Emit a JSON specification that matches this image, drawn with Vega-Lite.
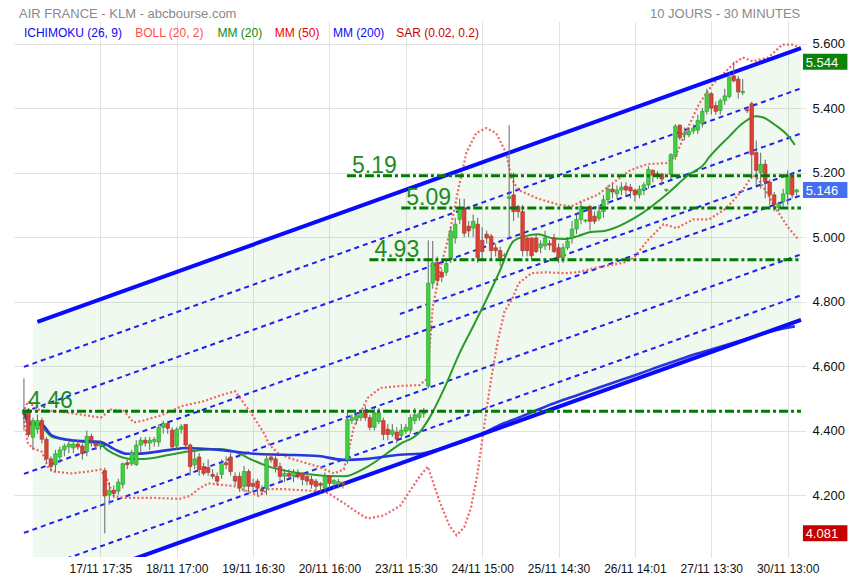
{
"$schema":"https://vega.github.io/schema/vega-lite/v6.json",
"width":792,"height":536,
"autosize":{"type":"none"},
"padding":{"left":14,"top":21,"right":49,"bottom":23},
"background":"#ffffff",
"config":{"view":{"stroke":null},"font":"Liberation Sans"},
"resolve":{"scale":{"color":"independent"}},
"datasets":{
"cd":[
{"i":0,"o":4.455,"h":4.562,"l":4.40,"c":4.462},
{"i":1,"o":4.465,"h":4.47,"l":4.38,"c":4.388},
{"i":2,"o":4.379,"h":4.44,"l":4.34,"c":4.431},
{"i":3,"o":4.404,"h":4.45,"l":4.39,"c":4.431},
{"i":4,"o":4.431,"h":4.44,"l":4.36,"c":4.373},
{"i":5,"o":4.373,"h":4.38,"l":4.30,"c":4.312},
{"i":6,"o":4.312,"h":4.32,"l":4.273,"c":4.288},
{"i":7,"o":4.294,"h":4.34,"l":4.27,"c":4.328},
{"i":8,"o":4.318,"h":4.35,"l":4.30,"c":4.340},
{"i":9,"o":4.340,"h":4.36,"l":4.32,"c":4.352},
{"i":10,"o":4.349,"h":4.37,"l":4.33,"c":4.358},
{"i":11,"o":4.346,"h":4.37,"l":4.33,"c":4.358},
{"i":12,"o":4.358,"h":4.37,"l":4.34,"c":4.349},
{"i":13,"o":4.352,"h":4.36,"l":4.31,"c":4.328},
{"i":14,"o":4.334,"h":4.40,"l":4.32,"c":4.382},
{"i":15,"o":4.382,"h":4.39,"l":4.35,"c":4.370},
{"i":16,"o":4.361,"h":4.37,"l":4.34,"c":4.352},
{"i":17,"o":4.352,"h":4.37,"l":4.34,"c":4.358},
{"i":18,"o":4.276,"h":4.285,"l":4.081,"c":4.197},
{"i":19,"o":4.200,"h":4.24,"l":4.17,"c":4.215},
{"i":20,"o":4.215,"h":4.23,"l":4.19,"c":4.205},
{"i":21,"o":4.212,"h":4.25,"l":4.20,"c":4.240},
{"i":22,"o":4.233,"h":4.30,"l":4.22,"c":4.297},
{"i":23,"o":4.300,"h":4.31,"l":4.28,"c":4.294},
{"i":24,"o":4.297,"h":4.34,"l":4.29,"c":4.330},
{"i":25,"o":4.294,"h":4.37,"l":4.29,"c":4.355},
{"i":26,"o":4.355,"h":4.38,"l":4.33,"c":4.370},
{"i":27,"o":4.370,"h":4.38,"l":4.35,"c":4.361},
{"i":28,"o":4.361,"h":4.38,"l":4.34,"c":4.370},
{"i":29,"o":4.366,"h":4.38,"l":4.35,"c":4.372},
{"i":30,"o":4.364,"h":4.42,"l":4.35,"c":4.410},
{"i":31,"o":4.410,"h":4.431,"l":4.39,"c":4.422},
{"i":32,"o":4.422,"h":4.43,"l":4.39,"c":4.407},
{"i":33,"o":4.401,"h":4.41,"l":4.34,"c":4.349},
{"i":34,"o":4.352,"h":4.41,"l":4.34,"c":4.404},
{"i":35,"o":4.404,"h":4.42,"l":4.39,"c":4.412},
{"i":36,"o":4.419,"h":4.42,"l":4.34,"c":4.355},
{"i":37,"o":4.355,"h":4.36,"l":4.26,"c":4.288},
{"i":38,"o":4.294,"h":4.34,"l":4.28,"c":4.312},
{"i":39,"o":4.318,"h":4.33,"l":4.26,"c":4.279},
{"i":40,"o":4.288,"h":4.30,"l":4.26,"c":4.267},
{"i":41,"o":4.285,"h":4.31,"l":4.26,"c":4.270},
{"i":42,"o":4.264,"h":4.28,"l":4.25,"c":4.258},
{"i":43,"o":4.258,"h":4.27,"l":4.23,"c":4.243},
{"i":44,"o":4.264,"h":4.31,"l":4.25,"c":4.297},
{"i":45,"o":4.300,"h":4.32,"l":4.28,"c":4.294},
{"i":46,"o":4.318,"h":4.33,"l":4.26,"c":4.273},
{"i":47,"o":4.258,"h":4.27,"l":4.23,"c":4.243},
{"i":48,"o":4.258,"h":4.27,"l":4.21,"c":4.222},
{"i":49,"o":4.227,"h":4.29,"l":4.21,"c":4.273},
{"i":50,"o":4.273,"h":4.28,"l":4.21,"c":4.227},
{"i":51,"o":4.236,"h":4.25,"l":4.21,"c":4.227},
{"i":52,"o":4.243,"h":4.25,"l":4.20,"c":4.221},
{"i":53,"o":4.218,"h":4.23,"l":4.20,"c":4.212},
{"i":54,"o":4.221,"h":4.327,"l":4.20,"c":4.312},
{"i":55,"o":4.318,"h":4.33,"l":4.30,"c":4.309},
{"i":56,"o":4.312,"h":4.32,"l":4.27,"c":4.288},
{"i":57,"o":4.288,"h":4.30,"l":4.24,"c":4.258},
{"i":58,"o":4.258,"h":4.28,"l":4.24,"c":4.267},
{"i":59,"o":4.267,"h":4.28,"l":4.25,"c":4.258},
{"i":60,"o":4.258,"h":4.28,"l":4.24,"c":4.270},
{"i":61,"o":4.267,"h":4.28,"l":4.25,"c":4.258},
{"i":62,"o":4.267,"h":4.27,"l":4.23,"c":4.248},
{"i":63,"o":4.258,"h":4.26,"l":4.23,"c":4.243},
{"i":64,"o":4.248,"h":4.26,"l":4.22,"c":4.233},
{"i":65,"o":4.243,"h":4.25,"l":4.21,"c":4.227},
{"i":66,"o":4.236,"h":4.24,"l":4.21,"c":4.230},
{"i":67,"o":4.221,"h":4.27,"l":4.21,"c":4.258},
{"i":68,"o":4.258,"h":4.26,"l":4.22,"c":4.236},
{"i":69,"o":4.236,"h":4.25,"l":4.22,"c":4.245},
{"i":70,"o":4.233,"h":4.25,"l":4.22,"c":4.242},
{"i":71,"o":4.239,"h":4.24,"l":4.22,"c":4.233},
{"i":72,"o":4.309,"h":4.461,"l":4.297,"c":4.434},
{"i":73,"o":4.431,"h":4.45,"l":4.42,"c":4.440},
{"i":74,"o":4.434,"h":4.455,"l":4.42,"c":4.446},
{"i":75,"o":4.440,"h":4.465,"l":4.43,"c":4.455},
{"i":76,"o":4.461,"h":4.477,"l":4.43,"c":4.440},
{"i":77,"o":4.440,"h":4.45,"l":4.40,"c":4.410},
{"i":78,"o":4.410,"h":4.47,"l":4.40,"c":4.455},
{"i":79,"o":4.428,"h":4.47,"l":4.42,"c":4.455},
{"i":80,"o":4.431,"h":4.44,"l":4.37,"c":4.388},
{"i":81,"o":4.404,"h":4.42,"l":4.37,"c":4.388},
{"i":82,"o":4.388,"h":4.42,"l":4.38,"c":4.401},
{"i":83,"o":4.395,"h":4.41,"l":4.36,"c":4.373},
{"i":84,"o":4.385,"h":4.42,"l":4.37,"c":4.401},
{"i":85,"o":4.398,"h":4.42,"l":4.39,"c":4.410},
{"i":86,"o":4.401,"h":4.45,"l":4.39,"c":4.440},
{"i":87,"o":4.431,"h":4.47,"l":4.42,"c":4.449},
{"i":88,"o":4.440,"h":4.46,"l":4.43,"c":4.452},
{"i":89,"o":4.452,"h":4.47,"l":4.44,"c":4.455},
{"i":90,"o":4.538,"h":4.99,"l":4.53,"c":4.857},
{"i":91,"o":4.857,"h":4.988,"l":4.84,"c":4.921},
{"i":92,"o":4.921,"h":4.94,"l":4.85,"c":4.866},
{"i":93,"o":4.891,"h":4.90,"l":4.86,"c":4.876},
{"i":94,"o":4.891,"h":4.93,"l":4.88,"c":4.918},
{"i":95,"o":4.936,"h":5.03,"l":4.92,"c":5.019},
{"i":96,"o":4.997,"h":5.06,"l":4.98,"c":5.040},
{"i":97,"o":5.055,"h":5.119,"l":5.04,"c":5.089},
{"i":98,"o":5.089,"h":5.119,"l":5.00,"c":5.012},
{"i":99,"o":5.034,"h":5.05,"l":5.00,"c":5.019},
{"i":100,"o":5.028,"h":5.07,"l":5.00,"c":5.049},
{"i":101,"o":5.040,"h":5.06,"l":4.92,"c":4.936},
{"i":102,"o":4.990,"h":5.03,"l":4.93,"c":4.955},
{"i":103,"o":5.009,"h":5.02,"l":4.98,"c":4.997},
{"i":104,"o":5.003,"h":5.01,"l":4.93,"c":4.958},
{"i":105,"o":4.967,"h":4.98,"l":4.94,"c":4.958},
{"i":106,"o":4.958,"h":4.97,"l":4.91,"c":4.936},
{"i":107,"o":4.942,"h":4.95,"l":4.93,"c":4.945},
{"i":108,"o":5.120,"h":5.347,"l":4.997,"c":5.125},
{"i":109,"o":5.131,"h":5.20,"l":5.05,"c":5.079},
{"i":110,"o":5.095,"h":5.10,"l":5.06,"c":5.079},
{"i":111,"o":5.079,"h":5.10,"l":4.94,"c":4.958},
{"i":112,"o":4.997,"h":5.00,"l":4.94,"c":4.958},
{"i":113,"o":4.997,"h":5.00,"l":4.93,"c":4.942},
{"i":114,"o":4.997,"h":5.01,"l":4.95,"c":4.955},
{"i":115,"o":4.967,"h":4.99,"l":4.95,"c":4.979},
{"i":116,"o":4.973,"h":5.02,"l":4.96,"c":4.997},
{"i":117,"o":4.980,"h":4.99,"l":4.96,"c":4.975},
{"i":118,"o":4.997,"h":5.01,"l":4.95,"c":4.955},
{"i":119,"o":4.967,"h":4.98,"l":4.92,"c":4.936},
{"i":120,"o":4.936,"h":4.98,"l":4.92,"c":4.967},
{"i":121,"o":4.967,"h":5.00,"l":4.96,"c":4.988},
{"i":122,"o":4.997,"h":5.05,"l":4.98,"c":5.025},
{"i":123,"o":5.025,"h":5.07,"l":5.01,"c":5.055},
{"i":124,"o":5.055,"h":5.11,"l":5.04,"c":5.095},
{"i":125,"o":5.050,"h":5.055,"l":5.045,"c":5.053},
{"i":126,"o":5.095,"h":5.10,"l":5.02,"c":5.049},
{"i":127,"o":5.065,"h":5.08,"l":5.04,"c":5.049},
{"i":128,"o":5.058,"h":5.10,"l":5.05,"c":5.079},
{"i":129,"o":5.079,"h":5.13,"l":5.06,"c":5.116},
{"i":130,"o":5.116,"h":5.16,"l":5.10,"c":5.149},
{"i":131,"o":5.149,"h":5.165,"l":5.12,"c":5.140},
{"i":132,"o":5.134,"h":5.16,"l":5.12,"c":5.146},
{"i":133,"o":5.146,"h":5.17,"l":5.13,"c":5.155},
{"i":134,"o":5.158,"h":5.17,"l":5.13,"c":5.146},
{"i":135,"o":5.155,"h":5.165,"l":5.12,"c":5.143},
{"i":136,"o":5.146,"h":5.15,"l":5.11,"c":5.131},
{"i":137,"o":5.131,"h":5.16,"l":5.12,"c":5.149},
{"i":138,"o":5.146,"h":5.17,"l":5.13,"c":5.162},
{"i":139,"o":5.162,"h":5.22,"l":5.15,"c":5.210},
{"i":140,"o":5.207,"h":5.21,"l":5.17,"c":5.192},
{"i":141,"o":5.197,"h":5.205,"l":5.18,"c":5.193},
{"i":142,"o":5.195,"h":5.20,"l":5.16,"c":5.180},
{"i":143,"o":5.145,"h":5.15,"l":5.14,"c":5.148},
{"i":144,"o":5.195,"h":5.26,"l":5.18,"c":5.256},
{"i":145,"o":5.250,"h":5.35,"l":5.24,"c":5.344},
{"i":146,"o":5.347,"h":5.35,"l":5.30,"c":5.308},
{"i":147,"o":5.318,"h":5.34,"l":5.30,"c":5.323},
{"i":148,"o":5.317,"h":5.34,"l":5.31,"c":5.329},
{"i":149,"o":5.329,"h":5.35,"l":5.32,"c":5.338},
{"i":150,"o":5.332,"h":5.38,"l":5.32,"c":5.362},
{"i":151,"o":5.353,"h":5.40,"l":5.34,"c":5.390},
{"i":152,"o":5.390,"h":5.46,"l":5.38,"c":5.445},
{"i":153,"o":5.445,"h":5.45,"l":5.38,"c":5.400},
{"i":154,"o":5.408,"h":5.42,"l":5.38,"c":5.390},
{"i":155,"o":5.393,"h":5.43,"l":5.38,"c":5.423},
{"i":156,"o":5.423,"h":5.46,"l":5.41,"c":5.438},
{"i":157,"o":5.436,"h":5.51,"l":5.43,"c":5.496},
{"i":158,"o":5.500,"h":5.544,"l":5.48,"c":5.485},
{"i":159,"o":5.490,"h":5.50,"l":5.43,"c":5.450},
{"i":160,"o":5.448,"h":5.49,"l":5.44,"c":5.452},
{"i":161,"o":5.395,"h":5.40,"l":5.385,"c":5.392},
{"i":162,"o":5.414,"h":5.42,"l":5.18,"c":5.256},
{"i":163,"o":5.262,"h":5.30,"l":5.16,"c":5.207},
{"i":164,"o":5.200,"h":5.262,"l":5.15,"c":5.226},
{"i":165,"o":5.226,"h":5.24,"l":5.12,"c":5.171},
{"i":166,"o":5.171,"h":5.18,"l":5.10,"c":5.131},
{"i":167,"o":5.131,"h":5.14,"l":5.08,"c":5.101},
{"i":168,"o":5.092,"h":5.11,"l":5.08,"c":5.104},
{"i":169,"o":5.110,"h":5.15,"l":5.09,"c":5.134},
{"i":170,"o":5.134,"h":5.207,"l":5.10,"c":5.192},
{"i":171,"o":5.192,"h":5.20,"l":5.12,"c":5.131},
{"i":172,"o":5.140,"h":5.15,"l":5.13,"c":5.146}
],
"chan":[{"i":2,"lo":3.8894,"hi":4.7322},{"i":172.97,"lo":4.7433,"hi":5.5861}],
"dash":[
{"n":"A","i":0,"v":4.5974},{"n":"A","i":172.97,"v":5.4614},
{"n":"B","i":0,"v":4.4574},{"n":"B","i":172.97,"v":5.3214},
{"n":"X","i":83.7,"v":4.7614},{"n":"X","i":172.97,"v":5.2073},
{"n":"C","i":0,"v":4.2654},{"n":"C","i":172.97,"v":5.1294},
{"n":"D","i":0,"v":4.0824},{"n":"D","i":172.97,"v":4.9464},
{"n":"E","i":0,"v":3.9554},{"n":"E","i":172.97,"v":4.8194}
],
"thick":[
{"n":"U","i":3,"v":4.7371},{"n":"U","i":172.97,"v":5.5861},
{"n":"L","i":2,"v":3.8894},{"n":"L","i":172.97,"v":4.7433}
],
"bbu":[
{"i":-0.2,"v":4.455},{"i":0.9,"v":4.49},{"i":3.1,"v":4.465},{"i":10,"v":4.455},{"i":17.1,"v":4.44},{"i":19.3,"v":4.465},{"i":22.2,"v":4.461},{"i":24.4,"v":4.425},{"i":26.6,"v":4.431},{"i":30.3,"v":4.446},{"i":35.4,"v":4.477},{"i":39.8,"v":4.49},{"i":44,"v":4.51},{"i":47,"v":4.522},{"i":50.8,"v":4.449},{"i":53.6,"v":4.388},{"i":54.5,"v":4.358},{"i":56.7,"v":4.328},{"i":59.6,"v":4.312},{"i":65.5,"v":4.288},{"i":69,"v":4.267},{"i":71.2,"v":4.279},{"i":72.5,"v":4.35},{"i":73.4,"v":4.41},{"i":76.5,"v":4.501},{"i":79.3,"v":4.532},{"i":83.7,"v":4.538},{"i":88.1,"v":4.541},{"i":89.7,"v":4.56},{"i":90.3,"v":4.653},{"i":91,"v":4.784},{"i":93,"v":4.92},{"i":94.7,"v":5.009},{"i":96.9,"v":5.162},{"i":98.5,"v":5.262},{"i":100.7,"v":5.323},{"i":102.9,"v":5.338},{"i":105.1,"v":5.323},{"i":107.3,"v":5.262},{"i":108.6,"v":5.18},{"i":110.1,"v":5.146},{"i":114.5,"v":5.119},{"i":118.9,"v":5.101},{"i":121.8,"v":5.095},{"i":124,"v":5.11},{"i":127.7,"v":5.131},{"i":131.4,"v":5.171},{"i":134.9,"v":5.207},{"i":138.7,"v":5.226},{"i":143.1,"v":5.23},{"i":145,"v":5.25},{"i":147.5,"v":5.33},{"i":150.3,"v":5.414},{"i":153.4,"v":5.475},{"i":156.3,"v":5.515},{"i":157.8,"v":5.536},{"i":160,"v":5.557},{"i":162.2,"v":5.545},{"i":165.7,"v":5.557},{"i":168.8,"v":5.597},{"i":171,"v":5.597},{"i":172.7,"v":5.588}
],
"bbl":[
{"i":-0.2,"v":4.455},{"i":0.9,"v":4.36},{"i":2,"v":4.345},{"i":4,"v":4.334},{"i":5.3,"v":4.288},{"i":6.4,"v":4.273},{"i":10.5,"v":4.267},{"i":14,"v":4.272},{"i":17.1,"v":4.279},{"i":18.5,"v":4.248},{"i":20,"v":4.197},{"i":22.2,"v":4.191},{"i":28.8,"v":4.191},{"i":34.7,"v":4.188},{"i":36.9,"v":4.197},{"i":39.1,"v":4.221},{"i":41,"v":4.236},{"i":47,"v":4.227},{"i":52.3,"v":4.197},{"i":54.5,"v":4.218},{"i":58,"v":4.218},{"i":65.5,"v":4.212},{"i":67.7,"v":4.206},{"i":71.2,"v":4.175},{"i":74.3,"v":4.145},{"i":76.5,"v":4.127},{"i":80,"v":4.136},{"i":83.7,"v":4.166},{"i":86.6,"v":4.227},{"i":88.1,"v":4.258},{"i":89.9,"v":4.288},{"i":92.5,"v":4.181},{"i":94.7,"v":4.105},{"i":96.3,"v":4.075},{"i":98,"v":4.10},{"i":99.5,"v":4.16},{"i":101,"v":4.27},{"i":102.5,"v":4.42},{"i":104,"v":4.56},{"i":105.5,"v":4.68},{"i":107,"v":4.77},{"i":108.6,"v":4.805},{"i":110.1,"v":4.857},{"i":113,"v":4.888},{"i":116,"v":4.891},{"i":120.4,"v":4.888},{"i":123.3,"v":4.891},{"i":127.7,"v":4.906},{"i":133.6,"v":4.921},{"i":135.8,"v":4.936},{"i":138.7,"v":4.988},{"i":142.4,"v":5.04},{"i":145.3,"v":5.028},{"i":149,"v":5.055},{"i":152.5,"v":5.055},{"i":156.3,"v":5.089},{"i":160,"v":5.146},{"i":162.2,"v":5.192},{"i":163.5,"v":5.18},{"i":165.7,"v":5.13},{"i":167.3,"v":5.09},{"i":170.1,"v":5.03},{"i":172.3,"v":4.994}
],
"mm20":[
{"i":-0.2,"v":4.46},{"i":1.3,"v":4.419},{"i":3.1,"v":4.419},{"i":6.4,"v":4.379},{"i":14.1,"v":4.364},{"i":17.1,"v":4.361},{"i":17.8,"v":4.349},{"i":20,"v":4.328},{"i":23.7,"v":4.312},{"i":26.6,"v":4.312},{"i":32.5,"v":4.325},{"i":36,"v":4.334},{"i":43.5,"v":4.343},{"i":47,"v":4.334},{"i":50.8,"v":4.309},{"i":54.5,"v":4.288},{"i":61.8,"v":4.267},{"i":71.2,"v":4.258},{"i":76.5,"v":4.288},{"i":83.7,"v":4.358},{"i":88.1,"v":4.395},{"i":90.3,"v":4.44},{"i":93.6,"v":4.532},{"i":96.9,"v":4.638},{"i":100.2,"v":4.729},{"i":102.9,"v":4.805},{"i":105.7,"v":4.888},{"i":109,"v":4.988},{"i":111.6,"v":5.003},{"i":114.5,"v":5.009},{"i":117.4,"v":4.997},{"i":120.4,"v":4.994},{"i":123.3,"v":5.003},{"i":126.2,"v":5.016},{"i":129.2,"v":5.019},{"i":136.5,"v":5.064},{"i":143.7,"v":5.14},{"i":148.1,"v":5.195},{"i":151.2,"v":5.223},{"i":152.5,"v":5.247},{"i":156.9,"v":5.311},{"i":160,"v":5.353},{"i":162.9,"v":5.375},{"i":164.4,"v":5.372},{"i":167.3,"v":5.347},{"i":170.1,"v":5.314},{"i":171.6,"v":5.286}
],
"mm200":[
{"i":-0.2,"v":4.465},{"i":1.3,"v":4.425},{"i":4,"v":4.419},{"i":6.2,"v":4.385},{"i":10.5,"v":4.37},{"i":17.1,"v":4.364},{"i":20,"v":4.343},{"i":22.9,"v":4.328},{"i":25.1,"v":4.328},{"i":32.5,"v":4.34},{"i":36,"v":4.346},{"i":43.5,"v":4.34},{"i":51.4,"v":4.328},{"i":58,"v":4.325},{"i":65.5,"v":4.321},{"i":71.2,"v":4.309},{"i":76.5,"v":4.312},{"i":83.7,"v":4.325},{"i":88.1,"v":4.328},{"i":92.5,"v":4.343},{"i":96.9,"v":4.361},{"i":101.3,"v":4.385},{"i":105.7,"v":4.416},{"i":110.1,"v":4.44},{"i":114.5,"v":4.465},{"i":118.9,"v":4.489},{"i":123.3,"v":4.51},{"i":127.7,"v":4.532},{"i":132.1,"v":4.553},{"i":136.5,"v":4.574},{"i":140.9,"v":4.596},{"i":145.3,"v":4.617},{"i":149.7,"v":4.638},{"i":154.1,"v":4.656},{"i":158.5,"v":4.675},{"i":162.9,"v":4.693},{"i":167.3,"v":4.711},{"i":171.6,"v":4.723}
],
"levels":[{"i":71.9,"v":5.19,"t":"5.19"},{"i":84,"v":5.09,"t":"5.09"},{"i":76.9,"v":4.93,"t":"4.93"},{"i":-0.2,"v":4.46,"t":"4.46"}],
"boxes":[{"v":5.544,"k":"haut"},{"v":5.146,"k":"dernier"},{"v":4.081,"k":"bas"}]
},
"layer":[
{"data":{"name":"chan"},"mark":{"type":"area","clip":true,"color":"#22aa22","opacity":0.075},
 "encoding":{
  "x":{"field":"i","type":"quantitative","scale":{"domain":[-1.1,172.97],"nice":false,"zero":false},"axis":{"values":[17,34,51,68,85,102,119,136,153,170],"labelExpr":"['17/11 17:35','18/11 17:00','19/11 16:30','20/11 16:00','23/11 15:30','24/11 15:00','25/11 14:30','26/11 14:01','27/11 13:30','30/11 13:00'][round(datum.value/17)-1]","grid":true,"gridColor":"#e2e2e2","ticks":false,"domain":false,"labelFontSize":12,"labelColor":"#111111","labelPadding":6,"title":null,"labelOverlap":false,"labelFlush":false}},
  "y":{"field":"lo","type":"quantitative","scale":{"domain":[4.0232,5.6548],"nice":false,"zero":false},"axis":{"orient":"right","values":[4.2,4.4,4.6,4.8,5.0,5.2,5.4,5.6],"format":".3f","grid":true,"gridColor":"#e2e2e2","ticks":false,"domain":false,"labelFontSize":13,"labelColor":"#111111","labelPadding":6,"title":null,"labelOverlap":false}},
  "y2":{"field":"hi"}}},
{"data":{"name":"dash"},"mark":{"type":"line","clip":true,"color":"#2020ee","strokeWidth":2,"strokeDash":[5,4]},
 "encoding":{
  "x":{"field":"i","type":"quantitative","scale":{"domain":[-1.1,172.97],"nice":false,"zero":false},"axis":{"values":[17,34,51,68,85,102,119,136,153,170],"labelExpr":"['17/11 17:35','18/11 17:00','19/11 16:30','20/11 16:00','23/11 15:30','24/11 15:00','25/11 14:30','26/11 14:01','27/11 13:30','30/11 13:00'][round(datum.value/17)-1]","grid":true,"gridColor":"#e2e2e2","ticks":false,"domain":false,"labelFontSize":12,"labelColor":"#111111","labelPadding":6,"title":null,"labelOverlap":false,"labelFlush":false}},
  "y":{"field":"v","type":"quantitative","scale":{"domain":[4.0232,5.6548],"nice":false,"zero":false},"axis":{"orient":"right","values":[4.2,4.4,4.6,4.8,5.0,5.2,5.4,5.6],"format":".3f","grid":true,"gridColor":"#e2e2e2","ticks":false,"domain":false,"labelFontSize":13,"labelColor":"#111111","labelPadding":6,"title":null,"labelOverlap":false}},
  "detail":{"field":"n"}}},
{"data":{"name":"bbu"},"mark":{"type":"line","clip":true,"color":"#f26464","strokeWidth":2.2,"strokeDash":[2,2.2]},
 "encoding":{
  "x":{"field":"i","type":"quantitative","scale":{"domain":[-1.1,172.97],"nice":false,"zero":false},"axis":{"values":[17,34,51,68,85,102,119,136,153,170],"labelExpr":"['17/11 17:35','18/11 17:00','19/11 16:30','20/11 16:00','23/11 15:30','24/11 15:00','25/11 14:30','26/11 14:01','27/11 13:30','30/11 13:00'][round(datum.value/17)-1]","grid":true,"gridColor":"#e2e2e2","ticks":false,"domain":false,"labelFontSize":12,"labelColor":"#111111","labelPadding":6,"title":null,"labelOverlap":false,"labelFlush":false}},
  "y":{"field":"v","type":"quantitative","scale":{"domain":[4.0232,5.6548],"nice":false,"zero":false},"axis":{"orient":"right","values":[4.2,4.4,4.6,4.8,5.0,5.2,5.4,5.6],"format":".3f","grid":true,"gridColor":"#e2e2e2","ticks":false,"domain":false,"labelFontSize":13,"labelColor":"#111111","labelPadding":6,"title":null,"labelOverlap":false}}}},
{"data":{"name":"bbl"},"mark":{"type":"line","clip":true,"color":"#f26464","strokeWidth":2.2,"strokeDash":[2,2.2]},
 "encoding":{
  "x":{"field":"i","type":"quantitative","scale":{"domain":[-1.1,172.97],"nice":false,"zero":false},"axis":{"values":[17,34,51,68,85,102,119,136,153,170],"labelExpr":"['17/11 17:35','18/11 17:00','19/11 16:30','20/11 16:00','23/11 15:30','24/11 15:00','25/11 14:30','26/11 14:01','27/11 13:30','30/11 13:00'][round(datum.value/17)-1]","grid":true,"gridColor":"#e2e2e2","ticks":false,"domain":false,"labelFontSize":12,"labelColor":"#111111","labelPadding":6,"title":null,"labelOverlap":false,"labelFlush":false}},
  "y":{"field":"v","type":"quantitative","scale":{"domain":[4.0232,5.6548],"nice":false,"zero":false},"axis":{"orient":"right","values":[4.2,4.4,4.6,4.8,5.0,5.2,5.4,5.6],"format":".3f","grid":true,"gridColor":"#e2e2e2","ticks":false,"domain":false,"labelFontSize":13,"labelColor":"#111111","labelPadding":6,"title":null,"labelOverlap":false}}}},
{"data":{"name":"mm20"},"mark":{"type":"line","clip":true,"color":"#2a9a2a","strokeWidth":2,"interpolate":"monotone"},
 "encoding":{
  "x":{"field":"i","type":"quantitative","scale":{"domain":[-1.1,172.97],"nice":false,"zero":false},"axis":{"values":[17,34,51,68,85,102,119,136,153,170],"labelExpr":"['17/11 17:35','18/11 17:00','19/11 16:30','20/11 16:00','23/11 15:30','24/11 15:00','25/11 14:30','26/11 14:01','27/11 13:30','30/11 13:00'][round(datum.value/17)-1]","grid":true,"gridColor":"#e2e2e2","ticks":false,"domain":false,"labelFontSize":12,"labelColor":"#111111","labelPadding":6,"title":null,"labelOverlap":false,"labelFlush":false}},
  "y":{"field":"v","type":"quantitative","scale":{"domain":[4.0232,5.6548],"nice":false,"zero":false},"axis":{"orient":"right","values":[4.2,4.4,4.6,4.8,5.0,5.2,5.4,5.6],"format":".3f","grid":true,"gridColor":"#e2e2e2","ticks":false,"domain":false,"labelFontSize":13,"labelColor":"#111111","labelPadding":6,"title":null,"labelOverlap":false}}}},
{"data":{"name":"mm200"},"mark":{"type":"line","clip":true,"color":"#2b35dd","strokeWidth":2.6,"interpolate":"monotone"},
 "encoding":{
  "x":{"field":"i","type":"quantitative","scale":{"domain":[-1.1,172.97],"nice":false,"zero":false},"axis":{"values":[17,34,51,68,85,102,119,136,153,170],"labelExpr":"['17/11 17:35','18/11 17:00','19/11 16:30','20/11 16:00','23/11 15:30','24/11 15:00','25/11 14:30','26/11 14:01','27/11 13:30','30/11 13:00'][round(datum.value/17)-1]","grid":true,"gridColor":"#e2e2e2","ticks":false,"domain":false,"labelFontSize":12,"labelColor":"#111111","labelPadding":6,"title":null,"labelOverlap":false,"labelFlush":false}},
  "y":{"field":"v","type":"quantitative","scale":{"domain":[4.0232,5.6548],"nice":false,"zero":false},"axis":{"orient":"right","values":[4.2,4.4,4.6,4.8,5.0,5.2,5.4,5.6],"format":".3f","grid":true,"gridColor":"#e2e2e2","ticks":false,"domain":false,"labelFontSize":13,"labelColor":"#111111","labelPadding":6,"title":null,"labelOverlap":false}}}},
{"data":{"name":"thick"},"mark":{"type":"line","clip":true,"color":"#0a0aff","strokeWidth":4},
 "encoding":{
  "x":{"field":"i","type":"quantitative","scale":{"domain":[-1.1,172.97],"nice":false,"zero":false},"axis":{"values":[17,34,51,68,85,102,119,136,153,170],"labelExpr":"['17/11 17:35','18/11 17:00','19/11 16:30','20/11 16:00','23/11 15:30','24/11 15:00','25/11 14:30','26/11 14:01','27/11 13:30','30/11 13:00'][round(datum.value/17)-1]","grid":true,"gridColor":"#e2e2e2","ticks":false,"domain":false,"labelFontSize":12,"labelColor":"#111111","labelPadding":6,"title":null,"labelOverlap":false,"labelFlush":false}},
  "y":{"field":"v","type":"quantitative","scale":{"domain":[4.0232,5.6548],"nice":false,"zero":false},"axis":{"orient":"right","values":[4.2,4.4,4.6,4.8,5.0,5.2,5.4,5.6],"format":".3f","grid":true,"gridColor":"#e2e2e2","ticks":false,"domain":false,"labelFontSize":13,"labelColor":"#111111","labelPadding":6,"title":null,"labelOverlap":false}},
  "detail":{"field":"n"}}},
{"data":{"name":"cd"},"mark":{"type":"rule","color":"#666666","strokeWidth":1},
 "encoding":{
  "x":{"field":"i","type":"quantitative","scale":{"domain":[-1.1,172.97],"nice":false,"zero":false},"axis":{"values":[17,34,51,68,85,102,119,136,153,170],"labelExpr":"['17/11 17:35','18/11 17:00','19/11 16:30','20/11 16:00','23/11 15:30','24/11 15:00','25/11 14:30','26/11 14:01','27/11 13:30','30/11 13:00'][round(datum.value/17)-1]","grid":true,"gridColor":"#e2e2e2","ticks":false,"domain":false,"labelFontSize":12,"labelColor":"#111111","labelPadding":6,"title":null,"labelOverlap":false,"labelFlush":false}},
  "y":{"field":"l","type":"quantitative","scale":{"domain":[4.0232,5.6548],"nice":false,"zero":false},"axis":{"orient":"right","values":[4.2,4.4,4.6,4.8,5.0,5.2,5.4,5.6],"format":".3f","grid":true,"gridColor":"#e2e2e2","ticks":false,"domain":false,"labelFontSize":13,"labelColor":"#111111","labelPadding":6,"title":null,"labelOverlap":false}},
  "y2":{"field":"h"}}},
{"data":{"name":"cd"},"mark":{"type":"bar","size":3.6,"strokeWidth":0.6},
 "encoding":{
  "x":{"field":"i","type":"quantitative","scale":{"domain":[-1.1,172.97],"nice":false,"zero":false},"axis":{"values":[17,34,51,68,85,102,119,136,153,170],"labelExpr":"['17/11 17:35','18/11 17:00','19/11 16:30','20/11 16:00','23/11 15:30','24/11 15:00','25/11 14:30','26/11 14:01','27/11 13:30','30/11 13:00'][round(datum.value/17)-1]","grid":true,"gridColor":"#e2e2e2","ticks":false,"domain":false,"labelFontSize":12,"labelColor":"#111111","labelPadding":6,"title":null,"labelOverlap":false,"labelFlush":false}},
  "y":{"field":"o","type":"quantitative","scale":{"domain":[4.0232,5.6548],"nice":false,"zero":false},"axis":{"orient":"right","values":[4.2,4.4,4.6,4.8,5.0,5.2,5.4,5.6],"format":".3f","grid":true,"gridColor":"#e2e2e2","ticks":false,"domain":false,"labelFontSize":13,"labelColor":"#111111","labelPadding":6,"title":null,"labelOverlap":false}},
  "y2":{"field":"c"},
  "fill":{"condition":{"test":"datum.c >= datum.o","value":"#3fd23f"},"value":"#dd4035"},
  "stroke":{"condition":{"test":"datum.c >= datum.o","value":"#2c9a2c"},"value":"#a83028"}}},
{"data":{"name":"levels"},"mark":{"type":"rule","color":"#007a00","strokeWidth":3,"strokeDash":[9,3,3,3]},
 "encoding":{
  "x":{"field":"i","type":"quantitative","scale":{"domain":[-1.1,172.97],"nice":false,"zero":false},"axis":{"values":[17,34,51,68,85,102,119,136,153,170],"labelExpr":"['17/11 17:35','18/11 17:00','19/11 16:30','20/11 16:00','23/11 15:30','24/11 15:00','25/11 14:30','26/11 14:01','27/11 13:30','30/11 13:00'][round(datum.value/17)-1]","grid":true,"gridColor":"#e2e2e2","ticks":false,"domain":false,"labelFontSize":12,"labelColor":"#111111","labelPadding":6,"title":null,"labelOverlap":false,"labelFlush":false}},
  "x2":{"datum":172.97},
  "y":{"field":"v","type":"quantitative","scale":{"domain":[4.0232,5.6548],"nice":false,"zero":false},"axis":{"orient":"right","values":[4.2,4.4,4.6,4.8,5.0,5.2,5.4,5.6],"format":".3f","grid":true,"gridColor":"#e2e2e2","ticks":false,"domain":false,"labelFontSize":13,"labelColor":"#111111","labelPadding":6,"title":null,"labelOverlap":false}}}},
{"data":{"name":"levels"},"mark":{"type":"text","color":"#1f8c1f","fontSize":23,"align":"left","baseline":"alphabetic","dx":5,"dy":-3},
 "encoding":{
  "x":{"field":"i","type":"quantitative","scale":{"domain":[-1.1,172.97],"nice":false,"zero":false},"axis":{"values":[17,34,51,68,85,102,119,136,153,170],"labelExpr":"['17/11 17:35','18/11 17:00','19/11 16:30','20/11 16:00','23/11 15:30','24/11 15:00','25/11 14:30','26/11 14:01','27/11 13:30','30/11 13:00'][round(datum.value/17)-1]","grid":true,"gridColor":"#e2e2e2","ticks":false,"domain":false,"labelFontSize":12,"labelColor":"#111111","labelPadding":6,"title":null,"labelOverlap":false,"labelFlush":false}},
  "y":{"field":"v","type":"quantitative","scale":{"domain":[4.0232,5.6548],"nice":false,"zero":false},"axis":{"orient":"right","values":[4.2,4.4,4.6,4.8,5.0,5.2,5.4,5.6],"format":".3f","grid":true,"gridColor":"#e2e2e2","ticks":false,"domain":false,"labelFontSize":13,"labelColor":"#111111","labelPadding":6,"title":null,"labelOverlap":false}},
  "text":{"field":"t"}}},
{"data":{"name":"boxes"},"mark":{"type":"bar","orient":"horizontal","size":16},
 "encoding":{
  "x":{"datum":173.4,"type":"quantitative","scale":{"domain":[-1.1,172.97],"nice":false,"zero":false},"axis":{"values":[17,34,51,68,85,102,119,136,153,170],"labelExpr":"['17/11 17:35','18/11 17:00','19/11 16:30','20/11 16:00','23/11 15:30','24/11 15:00','25/11 14:30','26/11 14:01','27/11 13:30','30/11 13:00'][round(datum.value/17)-1]","grid":true,"gridColor":"#e2e2e2","ticks":false,"domain":false,"labelFontSize":12,"labelColor":"#111111","labelPadding":6,"title":null,"labelOverlap":false,"labelFlush":false}},
  "x2":{"datum":183.3},
  "y":{"field":"v","type":"quantitative","scale":{"domain":[4.0232,5.6548],"nice":false,"zero":false},"axis":{"orient":"right","values":[4.2,4.4,4.6,4.8,5.0,5.2,5.4,5.6],"format":".3f","grid":true,"gridColor":"#e2e2e2","ticks":false,"domain":false,"labelFontSize":13,"labelColor":"#111111","labelPadding":6,"title":null,"labelOverlap":false}},
  "color":{"field":"k","type":"nominal","scale":{"domain":["haut","dernier","bas"],"range":["#0b830b","#4470f0","#c40000"]},"legend":null}}},
{"data":{"name":"boxes"},"mark":{"type":"text","color":"#ffffff","fontSize":13,"align":"left","baseline":"middle","dy":1},
 "encoding":{
  "x":{"datum":174.0,"type":"quantitative","scale":{"domain":[-1.1,172.97],"nice":false,"zero":false},"axis":{"values":[17,34,51,68,85,102,119,136,153,170],"labelExpr":"['17/11 17:35','18/11 17:00','19/11 16:30','20/11 16:00','23/11 15:30','24/11 15:00','25/11 14:30','26/11 14:01','27/11 13:30','30/11 13:00'][round(datum.value/17)-1]","grid":true,"gridColor":"#e2e2e2","ticks":false,"domain":false,"labelFontSize":12,"labelColor":"#111111","labelPadding":6,"title":null,"labelOverlap":false,"labelFlush":false}},
  "y":{"field":"v","type":"quantitative","scale":{"domain":[4.0232,5.6548],"nice":false,"zero":false},"axis":{"orient":"right","values":[4.2,4.4,4.6,4.8,5.0,5.2,5.4,5.6],"format":".3f","grid":true,"gridColor":"#e2e2e2","ticks":false,"domain":false,"labelFontSize":13,"labelColor":"#111111","labelPadding":6,"title":null,"labelOverlap":false}},
  "text":{"field":"v","type":"quantitative","format":".3f"}}},
{"data":{"values":[
  {"t":"AIR FRANCE - KLM - abcbourse.com","x":-1.1,"y":5.691,"k":"titre"},
  {"t":"ICHIMOKU (26, 9)","x":0,"y":5.6335,"k":"ichimoku"},
  {"t":"BOLL (20, 2)","x":24.77,"y":5.6335,"k":"boll"},
  {"t":"MM (20)","x":43.08,"y":5.6335,"k":"mm20"},
  {"t":"MM (50)","x":55.82,"y":5.6335,"k":"mm50"},
  {"t":"MM (200)","x":68.79,"y":5.6335,"k":"mm200"},
  {"t":"SAR (0.02, 0.2)","x":82.86,"y":5.6335,"k":"sar"}]},
 "mark":{"type":"text","align":"left","baseline":"middle","fontSize":12},
 "encoding":{
  "x":{"field":"x","type":"quantitative","scale":{"domain":[-1.1,172.97],"nice":false,"zero":false},"axis":{"values":[17,34,51,68,85,102,119,136,153,170],"labelExpr":"['17/11 17:35','18/11 17:00','19/11 16:30','20/11 16:00','23/11 15:30','24/11 15:00','25/11 14:30','26/11 14:01','27/11 13:30','30/11 13:00'][round(datum.value/17)-1]","grid":true,"gridColor":"#e2e2e2","ticks":false,"domain":false,"labelFontSize":12,"labelColor":"#111111","labelPadding":6,"title":null,"labelOverlap":false,"labelFlush":false}},
  "y":{"field":"y","type":"quantitative","scale":{"domain":[4.0232,5.6548],"nice":false,"zero":false},"axis":{"orient":"right","values":[4.2,4.4,4.6,4.8,5.0,5.2,5.4,5.6],"format":".3f","grid":true,"gridColor":"#e2e2e2","ticks":false,"domain":false,"labelFontSize":13,"labelColor":"#111111","labelPadding":6,"title":null,"labelOverlap":false}},
  "text":{"field":"t"},
  "size":{"condition":{"test":"datum.k == 'titre'","value":13},"value":12},
  "color":{"field":"k","type":"nominal","scale":{"domain":["titre","ichimoku","boll","mm20","mm50","mm200","sar"],"range":["#8a8a8a","#0a0aee","#ff4d4d","#108a10","#ee0000","#0a0aff","#cc0000"]},"legend":null}}},
{"data":{"values":[{"t":"10 JOURS - 30 MINUTES","x":172.8,"y":5.691}]},
 "mark":{"type":"text","align":"right","baseline":"middle","fontSize":13,"color":"#8a8a8a"},
 "encoding":{
  "x":{"field":"x","type":"quantitative","scale":{"domain":[-1.1,172.97],"nice":false,"zero":false},"axis":{"values":[17,34,51,68,85,102,119,136,153,170],"labelExpr":"['17/11 17:35','18/11 17:00','19/11 16:30','20/11 16:00','23/11 15:30','24/11 15:00','25/11 14:30','26/11 14:01','27/11 13:30','30/11 13:00'][round(datum.value/17)-1]","grid":true,"gridColor":"#e2e2e2","ticks":false,"domain":false,"labelFontSize":12,"labelColor":"#111111","labelPadding":6,"title":null,"labelOverlap":false,"labelFlush":false}},
  "y":{"field":"y","type":"quantitative","scale":{"domain":[4.0232,5.6548],"nice":false,"zero":false},"axis":{"orient":"right","values":[4.2,4.4,4.6,4.8,5.0,5.2,5.4,5.6],"format":".3f","grid":true,"gridColor":"#e2e2e2","ticks":false,"domain":false,"labelFontSize":13,"labelColor":"#111111","labelPadding":6,"title":null,"labelOverlap":false}},
  "text":{"field":"t"}}}
]
}
